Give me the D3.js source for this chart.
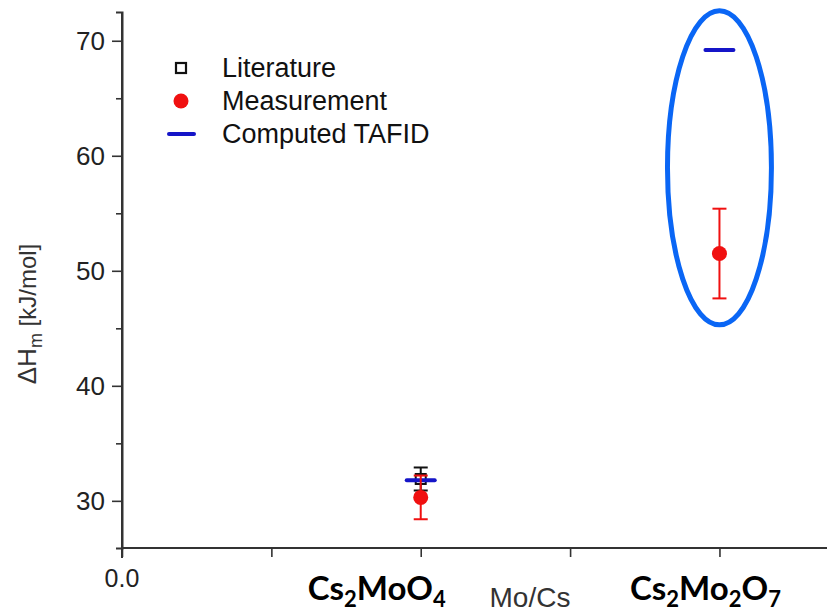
<!DOCTYPE html>
<html>
<head>
<meta charset="utf-8">
<script src="https://cdn.jsdelivr.net/npm/d3@7"></script>
<style>
  html, body { margin: 0; padding: 0; background: #fff; }
  svg { display: block; }
</style>
</head>
<body>
<svg id="chart" width="827" height="615"></svg>
<script>
// Mo/Cs ratio of each compound and its molar enthalpy values (kJ/mol)
const compounds = ["Cs2MoO4", "Cs2Mo2O7"];
const moCs = [0.5, 1.0];
const literature = [31.9, null];
const literatureErr = [1.0, null];
const measurement = [30.3, 51.5];
const measurementErr = [1.9, 3.9];
const computed = [31.8, 69.2];

const yTicksMajor = [30, 40, 50, 60, 70];
const yTicksMinor = [35, 45, 55, 65];
const xTicks = [0, 0.25, 0.5, 0.75, 1.0];

const legendItems = ["Literature", "Measurement", "Computed TAFID"];

const svg = d3.select("#chart");
const plotLeft = 122, plotRight = 827, plotTop = 12, plotBottom = 548;

const x = d3.scaleLinear().domain([0, 1.18]).range([plotLeft, plotRight]);
const y = d3.scaleLinear().domain([25.9, 72.5]).range([plotBottom, plotTop]);

const axisColor = "#333";
const sans = "'Liberation Sans', Arial, sans-serif";

// Axes
const yAxis = svg.append("g").attr("transform", `translate(${plotLeft},0)`)
  .call(d3.axisLeft(y).tickValues(yTicksMajor).tickSize(10).tickPadding(7).tickFormat(d3.format("d")));
const yMinor = svg.append("g").attr("transform", `translate(${plotLeft},0)`)
  .call(d3.axisLeft(y).tickValues(yTicksMinor).tickSize(6).tickFormat(""));
const xAxis = svg.append("g").attr("transform", `translate(0,${plotBottom})`)
  .call(d3.axisBottom(x).tickValues(xTicks).tickSize(9).tickFormat(""));

[yAxis, yMinor, xAxis].forEach(g => {
  g.select(".domain").attr("stroke", axisColor).attr("stroke-width", 2);
  g.selectAll(".tick line").attr("stroke", axisColor).attr("stroke-width", 1.6);
  g.selectAll(".tick text").attr("fill", "#222").attr("font-family", sans).attr("font-size", 26);
});
yAxis.select(".domain").attr("d", `M0,${plotTop}V${plotBottom + 10}`);
xAxis.select(".domain").attr("d", `M${plotLeft},0H${plotRight}`);

// "0.0" at the origin of the ratio axis
svg.append("text").attr("x", x(0)).attr("y", 587).attr("text-anchor", "middle")
  .attr("font-family", sans).attr("font-size", 25).attr("fill", "#222").text("0.0");

// Axis titles
svg.append("text").attr("x", 530).attr("y", 607).attr("text-anchor", "middle")
  .attr("font-family", sans).attr("font-size", 28).attr("fill", "#333").text("Mo/Cs");

const yTitle = svg.append("text")
  .attr("transform", "translate(36,314) rotate(-90)")
  .attr("text-anchor", "middle").attr("font-family", sans).attr("font-size", 24).attr("fill", "#333");
yTitle.append("tspan").attr("font-size", 26).text("ΔH");
yTitle.append("tspan").attr("font-size", 18).attr("dy", 6).text("m");
yTitle.append("tspan").attr("dy", -6).text(" [kJ/mol]");

// Compound names below the axis
const bold = "Lato, 'Open Sans', sans-serif";
function formula(cx, parts) {
  const t = svg.append("text").attr("x", cx).attr("y", 600).attr("text-anchor", "middle")
    .attr("font-family", bold).attr("font-weight", 700).attr("font-size", 33).attr("fill", "#000");
  let shift = 0;
  parts.forEach(([s, sub]) => {
    const dy = (sub ? 7 : 0) - shift;
    t.append("tspan").attr("dy", dy).attr("font-size", sub ? 22 : 33).text(s);
    shift = sub ? 7 : 0;
  });
}
formula(x(moCs[0]) - 44, [["Cs"], ["2", 1], ["MoO"], ["4", 1]]);
formula(x(moCs[1]) - 14, [["Cs"], ["2", 1], ["Mo"], ["2", 1], ["O"], ["7", 1]]);

// Error bar helper
function errorBar(cx, v, e, color, cap) {
  const g = svg.append("g").attr("stroke", color).attr("stroke-width", 2);
  g.append("line").attr("x1", cx).attr("x2", cx).attr("y1", y(v - e)).attr("y2", y(v + e));
  [v - e, v + e].forEach(t =>
    g.append("line").attr("x1", cx - cap).attr("x2", cx + cap).attr("y1", y(t)).attr("y2", y(t)));
}

// Literature values
moCs.forEach((m, i) => {
  if (literature[i] == null) return;
  errorBar(x(m), literature[i], literatureErr[i], "#111", 7);
  svg.append("rect").attr("x", x(m) - 5).attr("y", y(literature[i]) - 5)
    .attr("width", 10).attr("height", 10).attr("fill", "#fff").attr("stroke", "#111").attr("stroke-width", 2);
});

// Computed TAFID values
const blue = "#1515c8";
moCs.forEach((m, i) => {
  svg.append("line").attr("x1", x(m) - 14).attr("x2", x(m) + 14)
    .attr("y1", y(computed[i])).attr("y2", y(computed[i]))
    .attr("stroke", blue).attr("stroke-width", 4).attr("stroke-linecap", "round");
});

// Measurements
const red = "#f01010";
moCs.forEach((m, i) => {
  errorBar(x(m), measurement[i], measurementErr[i], red, 7);
  svg.append("circle").attr("cx", x(m)).attr("cy", y(measurement[i])).attr("r", 7.5).attr("fill", red);
});

// Highlight around the Cs2Mo2O7 values
const hiX = [0.913, 1.087], hiY = [45.3, 72.6];
svg.append("ellipse")
  .attr("cx", (x(hiX[0]) + x(hiX[1])) / 2).attr("cy", (y(hiY[0]) + y(hiY[1])) / 2)
  .attr("rx", (x(hiX[1]) - x(hiX[0])) / 2).attr("ry", (y(hiY[0]) - y(hiY[1])) / 2)
  .attr("fill", "none").attr("stroke", "#0a66f5").attr("stroke-width", 5);

// Legend
const legend = svg.append("g").attr("font-family", sans).attr("font-size", 27).attr("fill", "#111");
const ly = [68, 101, 134];
legend.append("rect").attr("x", 176).attr("y", ly[0] - 5).attr("width", 10).attr("height", 10)
  .attr("fill", "#fff").attr("stroke", "#111").attr("stroke-width", 2.2);
legend.append("circle").attr("cx", 181).attr("cy", ly[1]).attr("r", 7.5).attr("fill", red);
legend.append("line").attr("x1", 169).attr("x2", 194).attr("y1", ly[2]).attr("y2", ly[2])
  .attr("stroke", blue).attr("stroke-width", 4).attr("stroke-linecap", "round");
legendItems.forEach((t, i) => {
  legend.append("text").attr("x", 222).attr("y", ly[i] + 9).text(t);
});
</script>
</body>
</html>
